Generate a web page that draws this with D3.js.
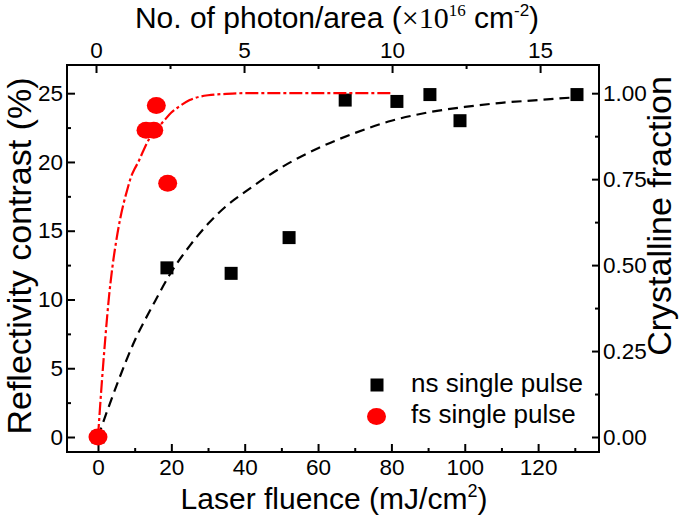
<!DOCTYPE html>
<html><head><meta charset="utf-8">
<script src="https://cdn.jsdelivr.net/npm/d3@7"></script>
<style>
html,body{margin:0;padding:0;background:#fff;}
svg{display:block;font-family:"Liberation Sans",Arial,sans-serif;}
</style></head>
<body>
<svg id="chart" width="685" height="521"></svg>
<script>
// ---- data ----
const nsFluence = [0, 18.8, 36.3, 52.1, 67.4, 81.5, 90.5, 98.7, 130.6];
const nsContrast = [0, 12.3, 11.9, 14.5, 24.5, 24.4, 24.9, 23.0, 24.9];
const fsFluence = [0, 13.1, 15.2, 15.9, 19.0];
const fsContrast = [0, 22.3, 22.3, 24.1, 18.45];
// fitted curves as drawn in the reference
const nsFitFluence = [0, 5, 10, 15, 20, 25, 30, 35, 40, 50, 60, 70, 80, 90, 100, 110, 120, 130];
const nsFitContrast = [0, 3.7, 7.0, 9.6, 12.0, 13.9, 15.5, 16.8, 17.8, 19.6, 21.0, 22.1, 23.0, 23.6, 24.0, 24.3, 24.5, 24.7];
const fsFitFluence = [0, 1, 2, 3, 4, 5, 6, 7, 8, 9, 10, 11, 12, 14, 16, 18, 20, 22, 25, 30, 35, 40, 60, 80];
const fsFitContrast = [0, 3.8, 7.2, 10.2, 12.5, 14.3, 15.8, 17.0, 18.0, 18.9, 19.5, 20.0, 20.6, 21.7, 22.4, 23.0, 23.6, 24.0, 24.5, 24.85, 24.95, 25, 25, 25];
// ticks
const bottomTicks = [0, 20, 40, 60, 80, 100, 120];
const bottomMinor = [10, 30, 50, 70, 90, 110, 130];
const topTicks = [0, 5, 10, 15];
const topMinor = [2.5, 7.5, 12.5];
const leftTicks = [0, 5, 10, 15, 20, 25];
const leftMinor = [2.5, 7.5, 12.5, 17.5, 22.5];
const rightTicks = [0, 0.25, 0.5, 0.75, 1.0];
const rightMinor = [0.125, 0.375, 0.625, 0.875];
const legendLabels = ["ns single pulse", "fs single pulse"];

// ---- layout ----
const L = 67, R = 599, T = 65, B = 452;
const svg = d3.select("#chart");

const x = d3.scaleLinear().domain([-8.45, 136.6]).range([L, R]);
const xTop = d3.scaleLinear().domain([-0.98, 16.99]).range([L, R]);
const y = d3.scaleLinear().domain([-1.09, 27.05]).range([B, T]);
const yR = d3.scaleLinear().domain([-1.09 / 25, 27.05 / 25]).range([B, T]);

const FS = 22.5;
function styleAxis(g) {
  g.select(".domain").remove();
  g.selectAll(".tick line").attr("stroke", "#000").attr("stroke-width", 2);
  g.selectAll(".tick text").attr("font-size", FS).attr("fill", "#000")
    .attr("font-family", '"Liberation Sans", Arial, sans-serif');
}
// bottom
svg.append("g").attr("transform", `translate(0,${B})`)
  .call(d3.axisBottom(x).tickValues(bottomTicks).tickSize(-8).tickPadding(7).tickFormat(d3.format("d")))
  .call(styleAxis);
svg.append("g").attr("transform", `translate(0,${B})`)
  .call(d3.axisBottom(x).tickValues(bottomMinor).tickSize(-4).tickFormat(""))
  .call(styleAxis);
// top
svg.append("g").attr("transform", `translate(0,${T})`)
  .call(d3.axisTop(xTop).tickValues(topTicks).tickSize(-8).tickPadding(7).tickFormat(d3.format("d")))
  .call(styleAxis);
svg.append("g").attr("transform", `translate(0,${T})`)
  .call(d3.axisTop(xTop).tickValues(topMinor).tickSize(-4).tickFormat(""))
  .call(styleAxis);
// left
svg.append("g").attr("transform", `translate(${L},0)`)
  .call(d3.axisLeft(y).tickValues(leftTicks).tickSize(-8).tickPadding(4).tickFormat(d3.format("d")))
  .call(styleAxis);
svg.append("g").attr("transform", `translate(${L},0)`)
  .call(d3.axisLeft(y).tickValues(leftMinor).tickSize(-4).tickFormat(""))
  .call(styleAxis);
// right
svg.append("g").attr("transform", `translate(${R},0)`)
  .call(d3.axisRight(yR).tickValues(rightTicks).tickSize(-7).tickPadding(4).tickFormat(d3.format(".2f")))
  .call(styleAxis);
svg.append("g").attr("transform", `translate(${R},0)`)
  .call(d3.axisRight(yR).tickValues(rightMinor).tickSize(-4).tickFormat(""))
  .call(styleAxis);

// frame
svg.append("rect").attr("x", L).attr("y", T).attr("width", R - L).attr("height", B - T)
  .attr("fill", "none").attr("stroke", "#000").attr("stroke-width", 2);

// squares
const SQ = 13;
svg.append("g").selectAll("rect").data(nsFluence.map((f, i) => [f, nsContrast[i]])).join("rect")
  .attr("x", d => x(d[0]) - SQ / 2).attr("y", d => y(d[1]) - SQ / 2)
  .attr("width", SQ).attr("height", SQ).attr("fill", "#000");

// fit lines
const line = d3.line().x(d => x(d[0])).y(d => y(d[1])).curve(d3.curveMonotoneX);
svg.append("path").datum(nsFitFluence.map((f, i) => [f, nsFitContrast[i]]))
  .attr("d", line).attr("fill", "none").attr("stroke", "#000").attr("stroke-width", 2.2)
  .attr("stroke-dasharray", "10,6");
svg.append("path").datum(fsFitFluence.map((f, i) => [f, fsFitContrast[i]]))
  .attr("d", line).attr("fill", "none").attr("stroke", "#f00").attr("stroke-width", 2.2)
  .attr("stroke-dasharray", "13,3,3,3");

// circles
svg.append("g").selectAll("ellipse").data(fsFluence.map((f, i) => [f, fsContrast[i]])).join("ellipse")
  .attr("cx", d => x(d[0])).attr("cy", d => y(d[1])).attr("rx", 9.5).attr("ry", 8.5).attr("fill", "#f00");

// legend
const lg = svg.append("g");
lg.append("rect").attr("x", 377 - SQ / 2).attr("y", 385 - SQ / 2).attr("width", SQ).attr("height", SQ).attr("fill", "#000");
lg.append("ellipse").attr("cx", 376.5).attr("cy", 416.5).attr("rx", 9.5).attr("ry", 8.5).attr("fill", "#f00");
lg.append("text").attr("x", 411).attr("y", 392).attr("font-size", 26).text(legendLabels[0]);
lg.append("text").attr("x", 411).attr("y", 423).attr("font-size", 26).text(legendLabels[1]);

// axis titles
const bt = svg.append("text").attr("x", 334).attr("y", 509).attr("text-anchor", "middle").attr("font-size", 30);
bt.append("tspan").text("Laser fluence (mJ/cm");
bt.append("tspan").attr("font-size", 18).attr("dy", -12).text("2");
bt.append("tspan").attr("dy", 12).text(")");

svg.append("text").attr("transform", "translate(31,256) rotate(-90)")
  .attr("text-anchor", "middle").attr("font-size", 34).text("Reflectivity contrast (%)");

svg.append("text").attr("transform", "translate(671,216) rotate(-90)")
  .attr("text-anchor", "middle").attr("font-size", 34).text("Crystalline fraction");

const tt = svg.append("text").attr("x", 337).attr("y", 28).attr("text-anchor", "middle").attr("font-size", 30);
tt.append("tspan").text("No. of photon/area (");
tt.append("tspan").attr("font-family", '"Liberation Serif", "Times New Roman", serif').text("×10");
tt.append("tspan").attr("font-family", '"Liberation Serif", "Times New Roman", serif').attr("font-size", 17).attr("dy", -12).text("16");
tt.append("tspan").attr("dy", 12).text(" cm");
tt.append("tspan").attr("font-size", 17).attr("dy", -12).text("-2");
tt.append("tspan").attr("dy", 12).text(")");
</script>
</body></html>
